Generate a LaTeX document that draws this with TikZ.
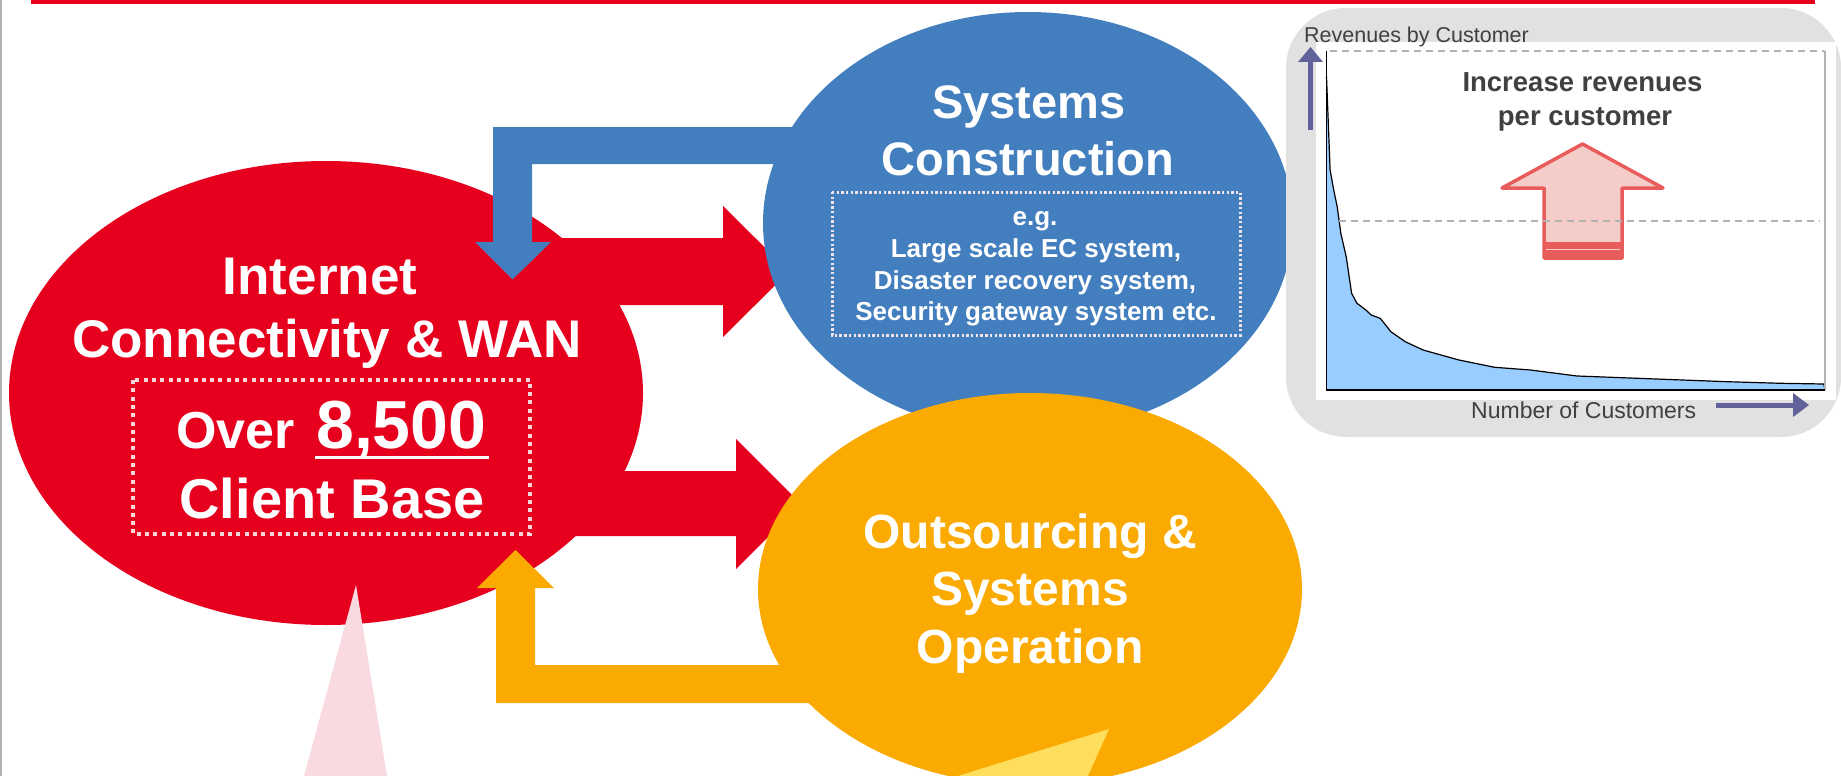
\documentclass[tikz,border=0pt]{standalone}
\usepackage{fontspec}
\setmainfont{Liberation Sans}
\usetikzlibrary{shapes.geometric}
\definecolor{iijred}{RGB}{230,0,30}
\definecolor{iijblue}{RGB}{67,126,190}
\definecolor{iijorange}{RGB}{250,170,0}
\definecolor{pinktri}{RGB}{249,218,224}
\definecolor{yeltri}{RGB}{255,222,94}
\definecolor{panelgray}{RGB}{225,225,225}
\definecolor{axispurple}{RGB}{98,98,155}
\definecolor{curveblue}{RGB}{153,204,255}
\definecolor{upline}{RGB}{232,92,92}
\definecolor{upfill}{RGB}{244,204,200}
\definecolor{dotpink}{RGB}{250,215,222}
\definecolor{dotpale}{RGB}{242,228,236}
\definecolor{textgray}{RGB}{64,64,64}
\definecolor{edgegray}{RGB}{176,176,176}
\tikzset{
  blob/.style={ellipse, inner sep=0pt, draw=none},
  headtxt/.style={text=white, inner sep=0pt, anchor=base, font=\bfseries\fontsize{#1}{#1}\selectfont},
  smalltxt/.style={text=white, inner sep=0pt, anchor=base, font=\bfseries\fontsize{26}{26}\selectfont},
  charttxt/.style={text=textgray, inner sep=0pt, font=\fontsize{#1}{#1}\selectfont},
  dotbox/.style={line width=4pt, draw=dotpink, dash pattern=on 4pt off 4.3pt},
  dotboxsmall/.style={line width=3pt, draw=dotpale, dash pattern=on 2.4pt off 2.3pt},
  axisarrow/.style={fill=axispurple, draw=none},
  gridline/.style={draw=gray!60, line width=1.3pt, dash pattern=on 7pt off 5pt}
}
\begin{document}
\begin{tikzpicture}[x=1pt,y=-1pt]
\useasboundingbox (0,0) rectangle (1841,776);
% frame lines
\fill[iijred] (31,0) rectangle (1815,4.5);
\draw[edgegray, line width=2pt] (1,0) -- (1,776);

% red ellipse
\node[blob, fill=iijred, minimum width=634pt, minimum height=464pt] (net) at (326,393) {};
% red arrows
\fill[iijred] (500,238) -- (723,238) -- (723,206) -- (789,271.5) -- (723,337) -- (723,305) -- (500,305) -- cycle;
\fill[iijred] (500,471) -- (736,471) -- (736,439) -- (801,504) -- (736,569) -- (736,536) -- (500,536) -- cycle;
% blue return arrow
\fill[iijblue] (1000,127) -- (493,127) -- (493,242) -- (475,242) -- (512.5,279.5) -- (551,242) -- (532,242) -- (532,164) -- (1000,164) -- cycle;
% blue ellipse
\node[blob, fill=iijblue, minimum width=530pt, minimum height=422pt] (cons) at (1028,223) {};
% yellow return arrow
\fill[iijorange] (900,703) -- (496,703) -- (496,588) -- (477,588) -- (515.5,550) -- (554,588) -- (535,588) -- (535,665) -- (900,665) -- cycle;
% yellow ellipse
\node[blob, fill=iijorange, minimum width=544pt, minimum height=392pt] (ops) at (1030,589) {};

% callout pointers
\fill[pinktri] (356,585) -- (387,776) -- (304,776) -- cycle;
\fill[yeltri] (1109,729) -- (1088,776) -- (958,776) -- cycle;

% red ellipse texts
\node[headtxt=53] (t1) at (320,294) {Internet};
\node[headtxt=53] (t2) at (327,357) {Connectivity \& WAN};
\node[headtxt=52, anchor=base west] (t3) at (176,448) {Over};
\node[headtxt=68, anchor=base west] (t4) at (316,448) {8,500};
\fill[white] (315,455.5) rectangle (489,459);
\node[headtxt=56] (t5) at (332,518) {Client Base};
\draw[dotbox] (133,380) rectangle (530,534);

% blue ellipse texts
\node[headtxt=47] (b1) at (1029,118) {Systems};
\node[headtxt=47] (b2) at (1028,175) {Construction};
\draw[dotboxsmall] (832,192) rectangle (1240,335);
\node[smalltxt] (b3) at (1035,225) {e.g.};
\node[smalltxt] (b4) at (1036,257) {Large scale EC system,};
\node[smalltxt] (b5) at (1035,289) {Disaster recovery system,};
\node[smalltxt] (b6) at (1036,320) {Security gateway system etc.};

% yellow ellipse texts
\node[headtxt=48] (y1) at (1030,548) {Outsourcing \&};
\node[headtxt=48] (y2) at (1030,605) {Systems};
\node[headtxt=48] (y3) at (1030,663) {Operation};

% chart panel
\fill[panelgray, rounded corners=60pt] (1286,8) rectangle (1841,437);
\fill[white] (1316,42) rectangle (1836,400);
\fill[curveblue] (1326.5,390) -- (1326.5,76.7) -- (1330.1,170) -- (1333.7,190) -- (1337.2,206.7) -- (1340.8,233.3) -- (1346.2,256.7) -- (1351.6,293.3) -- (1356.9,303.3) -- (1365.9,310) -- (1371.2,315) -- (1380.2,318.3) -- (1390.9,331.7) -- (1405.2,341.7) -- (1423.1,350) -- (1458.9,360) -- (1494.7,367.3) -- (1530.4,370) -- (1577,376) -- (1637.8,378.3) -- (1727.2,381.7) -- (1780.9,383.3) -- (1823.8,384) -- (1825,390) -- cycle;
\draw[black, line width=1.2pt] (1326.5,76.7) -- (1330.1,170) -- (1333.7,190) -- (1337.2,206.7) -- (1340.8,233.3) -- (1346.2,256.7) -- (1351.6,293.3) -- (1356.9,303.3) -- (1365.9,310) -- (1371.2,315) -- (1380.2,318.3) -- (1390.9,331.7) -- (1405.2,341.7) -- (1423.1,350) -- (1458.9,360) -- (1494.7,367.3) -- (1530.4,370) -- (1577,376) -- (1637.8,378.3) -- (1727.2,381.7) -- (1780.9,383.3) -- (1823.8,384) -- (1825,390);
\draw[gridline] (1330,51) -- (1825,51);
\draw[gray!60, line width=1.3pt] (1825,51) -- (1825,390);
\draw[black, line width=1.6pt] (1326.5,51) -- (1326.5,390) -- (1825,390);
% increase arrow
\filldraw[fill=upfill, draw=upline, line width=3.5pt, line join=round] (1544,258) -- (1544,188) -- (1502,188) -- (1582.5,144) -- (1663,188) -- (1622,188) -- (1622,258) -- cycle;
\draw[gridline] (1339,221) -- (1820,221);
\fill[upline] (1543,242) rectangle (1623,259);
\draw[upfill, line width=1pt] (1546,249.5) -- (1620,249.5);
% axis arrows
\fill[axispurple] (1307.5,130) rectangle (1312.5,61);
\fill[axispurple] (1298,62) -- (1310.5,47) -- (1323,62) -- cycle;
\fill[axispurple] (1716,402.5) rectangle (1794,407.5);
\fill[axispurple] (1793,393) -- (1809,405) -- (1793,417) -- cycle;
% chart texts
\node[charttxt=21.5, anchor=base west] (c1) at (1304,43) {Revenues by Customer};
\node[charttxt=27.5, anchor=base, font=\bfseries\fontsize{27.5}{27.5}\selectfont] (c2) at (1582.5,92) {Increase revenues};
\node[charttxt=27.5, anchor=base, font=\bfseries\fontsize{27.5}{27.5}\selectfont] (c3) at (1585,125) {per customer};
\node[charttxt=23, anchor=base west] (c4) at (1471,418) {Number of Customers};
\end{tikzpicture}
\end{document}
